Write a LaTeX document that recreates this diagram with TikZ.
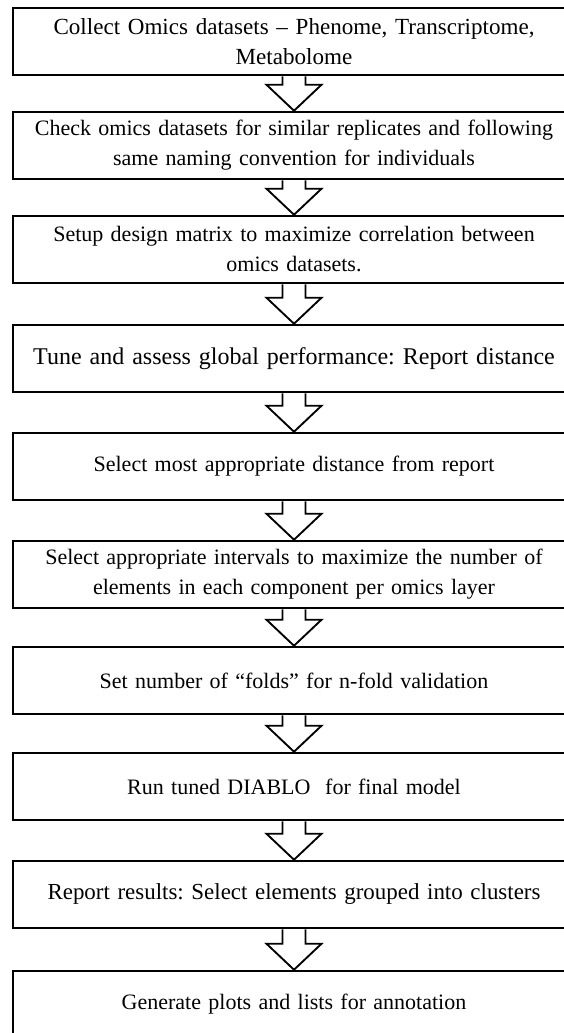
\documentclass[tikz,border=0pt]{standalone}
\usepackage{fontspec}
\setmainfont{Liberation Serif}
\usetikzlibrary{calc}
\frenchspacing
\tikzset{
  stepbox/.style={draw=black, line width=1.9pt, minimum width=421.5pt,
    minimum height=50.25pt, inner sep=0pt, text width=418pt, align=center,
    font=\fontsize{16.5pt}{22.5pt}\selectfont},
  textsize/.style={font=\fontsize{#1}{22.5pt}\selectfont},
  blockarrow/.style={draw=black, line width=1.4pt, line join=miter}
}
\begin{document}
\begin{tikzpicture}[x=0.75pt,y=-0.75pt]
\useasboundingbox (0,0) rectangle (564,1033);
\clip (0,0) rectangle (564,1033);

% workflow steps
\node[stepbox, textsize=17.3pt] (s1)  at (294,41.5)   {Collect Omics datasets – Phenome, Transcriptome,\\Metabolome};
\node[stepbox] (s2)  at (294,145.5)  {Check omics datasets for similar replicates and following\\same naming convention for individuals};
\node[stepbox] (s3)  at (294,249.5)  {Setup design matrix to maximize correlation between\\omics datasets.};
\node[stepbox, textsize=18pt] (s4)  at (294,358.5)  {Tune and assess global performance: Report distance};
\node[stepbox] (s5)  at (294,466.5)  {Select most appropriate distance from report};
\node[stepbox] (s6)  at (294,574.5)  {Select appropriate intervals to maximize the number of\\elements in each component per omics layer};
\node[stepbox] (s7)  at (294,680.5)  {Set number of “folds” for n-fold validation};
\node[stepbox] (s8)  at (294,786.5)  {Run tuned DIABLO\ \ for final model};
\node[stepbox, textsize=17.2pt] (s9)  at (294,894.5)  {Report results: Select elements grouped into clusters};
\node[stepbox] (s10) at (294,1004.5) {Generate plots and lists for annotation};

% hollow block arrows between consecutive steps
\foreach \a/\b in {s1/s2,s2/s3,s3/s4,s4/s5,s5/s6,s6/s7,s7/s8,s8/s9,s9/s10}{
  \draw[blockarrow] ($(\a.south)+(-11.5,0)$) |- ($(\b.north)+(-27.5,-26)$)
    -- (\b.north) -- ($(\b.north)+(27.5,-26)$) -| ($(\a.south)+(11.5,0)$);
}
\end{tikzpicture}
\end{document}
